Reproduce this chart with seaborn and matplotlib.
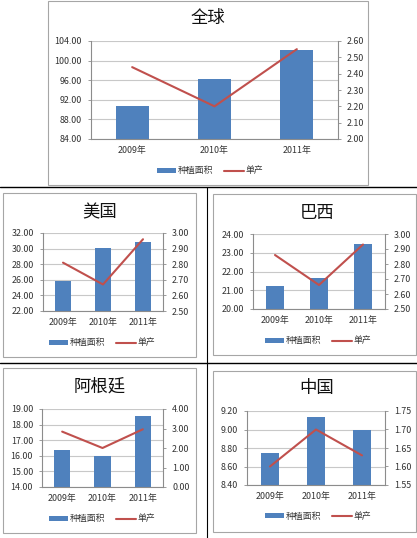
import numpy as np
import pandas as pd
import matplotlib
matplotlib.use("Agg")
import matplotlib.pyplot as plt
import seaborn as sns
from matplotlib.patches import Patch, Rectangle
from matplotlib.lines import Line2D

sns.set_style("white")
plt.rcParams['font.family'] = ['Noto Sans CJK SC', 'DejaVu Sans']

# ---------------- data ----------------
years = ["2009年", "2010年", "2011年"]
legend_labels = ["种植面积", "单产"]

world_area = [90.7, 96.3, 102.1]
world_yield = [2.44, 2.20, 2.55]
world_lticks = [84, 88, 92, 96, 100, 104]
world_rticks = [2.0, 2.1, 2.2, 2.3, 2.4, 2.5, 2.6]

us_area = [25.9, 30.1, 30.9]
us_yield = [2.81, 2.67, 2.96]
us_lticks = [22, 24, 26, 28, 30, 32]
us_rticks = [2.5, 2.6, 2.7, 2.8, 2.9, 3.0]

brazil_area = [21.25, 21.68, 23.46]
brazil_yield = [2.86, 2.66, 2.93]
brazil_lticks = [20, 21, 22, 23, 24]
brazil_rticks = [2.5, 2.6, 2.7, 2.8, 2.9, 3.0]

argentina_area = [16.35, 15.97, 18.57]
argentina_yield = [2.84, 2.00, 2.96]
argentina_lticks = [14, 15, 16, 17, 18, 19]
argentina_rticks = [0, 1, 2, 3, 4]

china_area = [8.75, 9.13, 9.00]
china_yield = [1.60, 1.70, 1.63]
china_lticks = [8.4, 8.6, 8.8, 9.0, 9.2]
china_rticks = [1.55, 1.60, 1.65, 1.70, 1.75]

# ---------------- style ----------------
W, H = 417, 538
BLUE = "#4F81BD"
RED = "#C0504D"
GRID = "#C8C8C8"
AXIS = "#8C8C8C"
BOX = "#A6A6A6"
TICK_FS = 6.4
LEG_FS = 6.4
TITLE_FS = 12.5

fig = plt.figure(figsize=(W / 100, H / 100), dpi=100)


def rect(l, t, r, b):
    return [l / W, 1 - b / H, (r - l) / W, (b - t) / H]


def panel(plot_px, box_px, title, title_xy, legend_xy, area, yld, lticks, rticks):
    l, t, r, b = box_px
    fig.add_artist(Rectangle((l / W, 1 - b / H), (r - l) / W, (b - t) / H,
                             transform=fig.transFigure, fill=False,
                             edgecolor=BOX, linewidth=0.8))
    df = pd.DataFrame({"year": years, "area": area, "yield": yld})
    ax = fig.add_axes(rect(*plot_px))
    sns.barplot(data=df, x="year", y="area", color=BLUE, width=0.4,
                saturation=1, ax=ax, edgecolor="none")
    ax.set_ylim(lticks[0], lticks[-1])
    ax.set_yticks(lticks)
    ax.set_yticklabels([f"{v:.2f}" for v in lticks], fontsize=TICK_FS)
    ax.set_xlabel("")
    ax.set_ylabel("")
    ax.yaxis.grid(True, color=GRID, linewidth=0.8)
    ax.set_axisbelow(True)
    for s in ["top", "right"]:
        ax.spines[s].set_visible(False)
    for s in ["left", "bottom"]:
        ax.spines[s].set_color(AXIS)
        ax.spines[s].set_linewidth(0.8)
    ax.tick_params(axis="y", left=True, length=2.5, width=0.6, color=AXIS,
                   pad=4, labelsize=TICK_FS, labelcolor="#333333")
    ax.tick_params(axis="x", length=0, pad=5, labelsize=TICK_FS,
                   labelcolor="#333333")

    ax2 = ax.twinx()
    sns.lineplot(data=df, x="year", y="yield", color=RED, linewidth=1.5,
                 ax=ax2, sort=False)
    ax2.set_ylim(rticks[0], rticks[-1])
    ax2.set_yticks(rticks)
    ax2.set_yticklabels([f"{v:.2f}" for v in rticks], fontsize=TICK_FS)
    ax2.set_ylabel("")
    ax2.set_xlabel("")
    for s in ["top", "left", "bottom"]:
        ax2.spines[s].set_visible(False)
    ax2.spines["right"].set_color(AXIS)
    ax2.spines["right"].set_linewidth(0.8)
    ax2.tick_params(axis="y", right=True, length=2.5, width=0.6, color=AXIS,
                    pad=4, labelsize=TICK_FS, labelcolor="#333333")
    ax2.grid(False)
    ax.set_xlim(-0.5, 2.5)

    fig.text(title_xy[0] / W, 1 - title_xy[1] / H, title, fontsize=TITLE_FS,
             ha="center", va="center", color="#111111")
    handles = [Patch(facecolor=BLUE, edgecolor="none"),
               Line2D([], [], color=RED, linewidth=1.5)]
    leg = fig.legend(handles, legend_labels, loc="center",
                     bbox_to_anchor=(legend_xy[0] / W, 1 - legend_xy[1] / H),
                     bbox_transform=fig.transFigure, ncol=2, frameon=False,
                     fontsize=LEG_FS, handlelength=2.2, handleheight=0.6,
                     columnspacing=1.2, handletextpad=0.2, borderpad=0)
    for txt in leg.get_texts():
        txt.set_color("#333333")


panel((91, 41, 338, 139), (48, 1, 368, 185), "全球", (208, 18), (210, 171),
      world_area, world_yield, world_lticks, world_rticks)
panel((43, 233, 163, 311), (3, 193, 196, 357), "美国", (100, 212), (102, 343),
      us_area, us_yield, us_lticks, us_rticks)
panel((253, 234, 385, 309), (213, 194, 416, 355), "巴西", (317, 213), (318, 341),
      brazil_area, brazil_yield, brazil_lticks, brazil_rticks)
panel((42, 409, 163, 487), (3, 368, 196, 533), "阿根廷", (100, 387), (102, 519),
      argentina_area, argentina_yield, argentina_lticks, argentina_rticks)
panel((247, 411, 385, 485), (213, 371, 416, 532), "中国", (317, 388), (318, 516),
      china_area, china_yield, china_lticks, china_rticks)

# table lines
for y in (187, 363):
    fig.add_artist(Line2D([0, 1], [1 - y / H, 1 - y / H], transform=fig.transFigure,
                          color="black", linewidth=1.0))
fig.add_artist(Line2D([207 / W, 207 / W], [1 - 187 / H, 0], transform=fig.transFigure,
                      color="black", linewidth=0.8))

fig.savefig("out.png", dpi=100)
